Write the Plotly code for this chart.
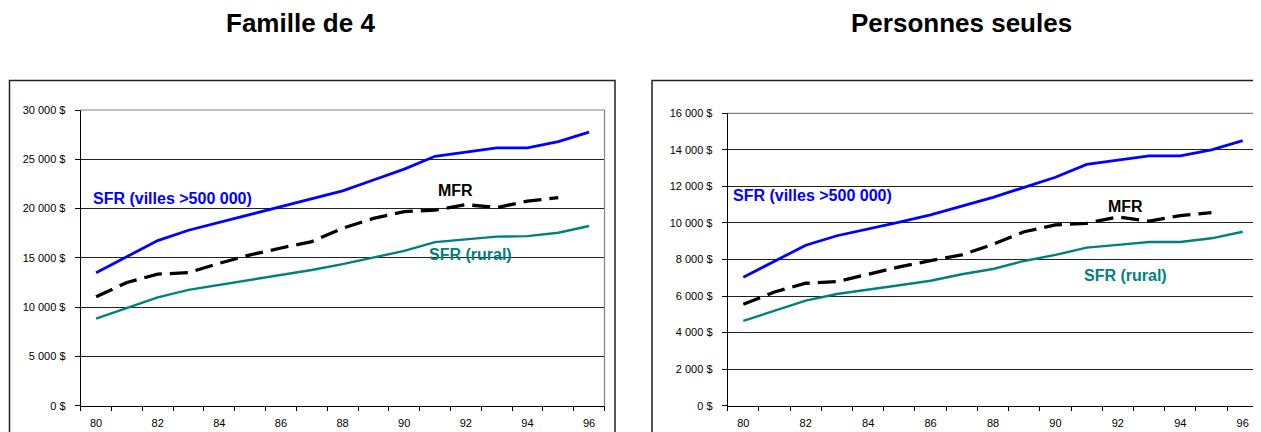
import plotly.graph_objects as go

years = list(range(80, 97))
xtick_vals = [80, 82, 84, 86, 88, 90, 92, 94, 96]
xtick_text = ["80", "82", "84", "86", "88", "90", "92", "94", "96"]

# Famille de 4
fam_villes = [13500, 15100, 16750, 17800, 18600, 19400, 20200, 21000, 21800, 22900, 24000, 25300, 25700, 26150, 26150, 26800, 27750]
fam_mfr = [11050, 12500, 13350, 13500, 14450, 15300, 16000, 16650, 18000, 19000, 19700, 19850, 20400, 20100, 20750, 21100, None]
fam_rural = [8830, 9900, 11000, 11750, 12250, 12800, 13300, 13770, 14370, 15000, 15700, 16600, 16880, 17150, 17200, 17550, 18230]
fam_yvals = [0, 5000, 10000, 15000, 20000, 25000, 30000]
fam_ytext = ["0 $", "5 000 $", "10 000 $", "15 000 $", "20 000 $", "25 000 $", "30 000 $"]

# Personnes seules
seul_villes = [7030, 7900, 8780, 9300, 9650, 10040, 10440, 10900, 11400, 11950, 12500, 13200, 13450, 13670, 13670, 14000, 14500]
seul_mfr = [5550, 6220, 6700, 6790, 7190, 7600, 7940, 8250, 8830, 9520, 9890, 9980, 10330, 10100, 10400, 10560, None]
seul_rural = [4640, 5200, 5750, 6110, 6330, 6590, 6840, 7190, 7480, 7920, 8250, 8650, 8800, 8960, 8960, 9160, 9520]
seul_yvals = [0, 2000, 4000, 6000, 8000, 10000, 12000, 14000, 16000]
seul_ytext = ["0 $", "2 000 $", "4 000 $", "6 000 $", "8 000 $", "10 000 $", "12 000 $", "14 000 $", "16 000 $"]

titles = ["Famille de 4", "Personnes seules"]
lab_villes = "SFR (villes >500 000)"
lab_mfr = "MFR"
lab_rural = "SFR (rural)"

BLUE = "#0000FF"
TEAL = "#008080"
FONT = "Liberation Sans, Arial, sans-serif"
W, H = 1261, 432
OFF = 8  # page body margin compensation

fig = go.Figure()

def add_series(xa, ya, villes, mfr, rural):
    fig.add_trace(go.Scatter(x=years, y=villes, mode="lines", line=dict(color=BLUE, width=2.8),
                             xaxis=xa, yaxis=ya, showlegend=False, hoverinfo="skip"))
    fig.add_trace(go.Scatter(x=years, y=mfr, mode="lines", line=dict(color="black", width=3.3, dash="18px,8px"),
                             xaxis=xa, yaxis=ya, showlegend=False, hoverinfo="skip", connectgaps=False))
    fig.add_trace(go.Scatter(x=years, y=rural, mode="lines", line=dict(color=TEAL, width=2.4),
                             xaxis=xa, yaxis=ya, showlegend=False, hoverinfo="skip"))

add_series("x", "y", fam_villes, fam_mfr, fam_rural)
add_series("x2", "y2", seul_villes, seul_mfr, seul_rural)

def px_x(p):
    return (p - OFF) / W

def px_y(p):
    return (H - (p - OFF)) / H

xaxis_common = dict(
    range=[79.5, 96.5], tickvals=xtick_vals, ticktext=xtick_text, ticks="", showgrid=False,
    zeroline=False, showline=True, linecolor="black", linewidth=1, mirror=False, automargin=False,
    tickfont=dict(family=FONT, size=11, color="black"), fixedrange=True, ticklabelstandoff=7,
    minor=dict(tickvals=[y + 0.5 for y in range(79, 97)], ticks="outside", ticklen=4, tickcolor="black", showgrid=False),
)
yaxis_common = dict(
    showgrid=True, gridcolor="#222222", gridwidth=1, zeroline=False, showline=True, automargin=False,
    linecolor="black", linewidth=1, ticks="outside", ticklen=5, tickcolor="black", ticklabelstandoff=7,
    tickfont=dict(family=FONT, size=11, color="black"), fixedrange=True,
)

fig.update_layout(
    width=W, height=H, margin=dict(l=0, r=0, t=0, b=0, autoexpand=False),
    paper_bgcolor="white", plot_bgcolor="white", showlegend=False,
    xaxis=dict(domain=[px_x(80.7), px_x(604.5)], anchor="y", **xaxis_common),
    yaxis=dict(domain=[px_y(405.7), px_y(110)], anchor="x", range=[0, 30000],
               tickvals=fam_yvals, ticktext=fam_ytext, **yaxis_common),
    xaxis2=dict(domain=[px_x(727.7), px_x(1258.3)], anchor="y2", **xaxis_common),
    yaxis2=dict(domain=[px_y(405.7), px_y(113.3)], anchor="x2", range=[0, 16000],
                tickvals=seul_yvals, ticktext=seul_ytext, **yaxis_common),
)

shapes = []
# outer chart boxes
shapes.append(dict(type="rect", xref="paper", yref="paper", x0=px_x(9.5), x1=px_x(615), y0=px_y(480), y1=px_y(80.5),
                   line=dict(color="#222222", width=1.5), fillcolor="rgba(0,0,0,0)", layer="below"))
shapes.append(dict(type="rect", xref="paper", yref="paper", x0=px_x(652), x1=px_x(1300), y0=px_y(480), y1=px_y(80.5),
                   line=dict(color="#222222", width=1.5), fillcolor="rgba(0,0,0,0)", layer="below"))
# plot area top/right borders
for xr, yr in (("x domain", "y domain"), ("x2 domain", "y2 domain")):
    shapes.append(dict(type="line", xref=xr, yref=yr, x0=0, x1=1, y0=1, y1=1, line=dict(color="#808080", width=1.2)))
    shapes.append(dict(type="line", xref=xr, yref=yr, x0=1, x1=1, y0=0, y1=1, line=dict(color="#808080", width=1.2)))
fig.update_layout(shapes=shapes)

ann = []
for t, cx in zip(titles, [300.5, 961.5]):
    ann.append(dict(text=t, xref="paper", yref="paper", x=px_x(cx), y=px_y(23), xanchor="center", yanchor="middle",
                    showarrow=False, font=dict(family=FONT, size=26, color="black", weight="bold")))

def lab(text, xa, ya, x, y, color):
    ann.append(dict(text=text, xref=xa, yref=ya, x=x, y=y, xanchor="center", yanchor="middle", showarrow=False,
                    font=dict(family=FONT, size=16, color=color, weight="bold")))

lab(lab_villes, "x", "y", 82.48, 21070, BLUE)
lab(lab_mfr, "x", "y", 91.65, 21880, "black")
lab(lab_rural, "x", "y", 92.16, 15390, TEAL)
lab(lab_villes, "x2", "y2", 82.22, 11480, BLUE)
lab(lab_mfr, "x2", "y2", 92.23, 10880, "black")
lab(lab_rural, "x2", "y2", 92.25, 7120, TEAL)
fig.update_layout(annotations=ann)

fig.write_html("out.html")
